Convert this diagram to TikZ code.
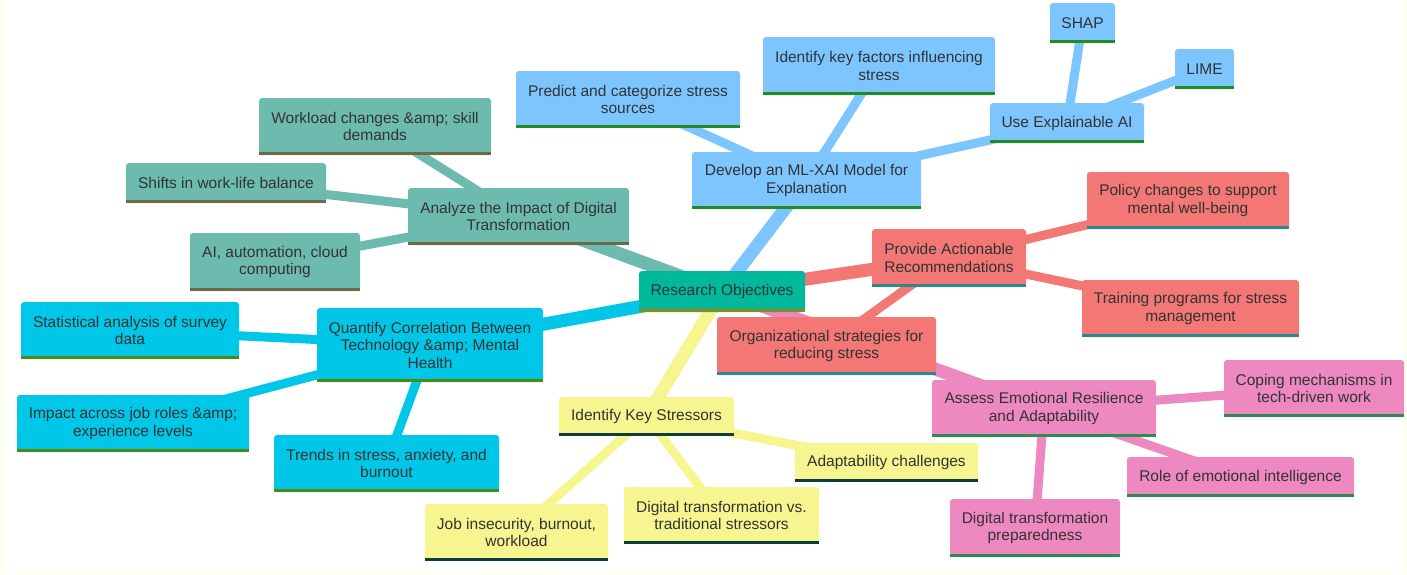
\documentclass[tikz,border=0pt]{standalone}
\usepackage{fontspec}
\setmainfont{Liberation Sans}
\usetikzlibrary{backgrounds}
\pgfdeclarelayer{bg}
\pgfsetlayers{bg,background,main}
\definecolor{txt}{HTML}{333333}
\definecolor{cRoot}{HTML}{00B89C}\definecolor{bRoot}{HTML}{8B8B1A}
\definecolor{cTeal}{HTML}{6DBAAF}\definecolor{bTeal}{HTML}{6B6B4B}
\definecolor{cBlue}{HTML}{7CC5FF}\definecolor{bBlue}{HTML}{228B22}
\definecolor{cRed}{HTML}{F27775}\definecolor{bRed}{HTML}{2A8A8A}
\definecolor{cPink}{HTML}{EE88C0}\definecolor{bPink}{HTML}{2E8B57}
\definecolor{cYel}{HTML}{F7F58F}\definecolor{bYel}{HTML}{0F3D3D}
\definecolor{cCyan}{HTML}{00C7E8}\definecolor{bCyan}{HTML}{4C8A14}
\definecolor{frame}{HTML}{FBFFEF}
\newcommand\mmbar[2]{\draw[#2, line width=3pt] ([yshift=1.5pt]#1.south west) -- ([yshift=1.5pt]#1.south east);}
\tikzset{
  mm/.style={rounded corners=3pt, text=txt, font=\fontsize{15.5}{17.5}\selectfont, align=center, inner sep=0pt},
  sz/.style 2 args={minimum width=#1pt, minimum height=#2pt},
  e1/.style={line width=13pt},
  e2/.style={line width=9pt},
}
\begin{document}
\begin{tikzpicture}[x=1pt,y=-1pt]
\begin{pgfonlayer}{bg}
\fill[frame] (0,0) rectangle (1407,574);
\fill[white] (5,0) rectangle (1404,571);
\end{pgfonlayer}
\useasboundingbox (0,0) rectangle (1407,574);
% root
\node[mm, fill=cRoot, sz={166}{41}] (root) at (722,291.5) {Research Objectives};
% teal group
\node[mm, fill=cTeal, sz={221}{57}] (analyze) at (518.5,216.5) {Analyze the Impact of Digital\\Transformation};
\node[mm, fill=cTeal, sz={232}{57}] (workload) at (375,126.5) {Workload changes \&amp; skill\\demands};
\node[mm, fill=cTeal, sz={200}{40}] (shifts) at (226,183) {Shifts in work-life balance};
\node[mm, fill=cTeal, sz={170}{58}] (aiauto) at (275,262) {AI, automation, cloud\\computing};
% blue group
\node[mm, fill=cBlue, sz={229}{57}] (develop) at (806.5,180.5) {Develop an ML-XAI Model for\\Explanation};
\node[mm, fill=cBlue, sz={224}{57}] (predict) at (628,99.5) {Predict and categorize stress\\sources};
\node[mm, fill=cBlue, sz={232}{58}] (factors) at (879,66) {Identify key factors influencing\\stress};
\node[mm, fill=cBlue, sz={154}{40}] (usexai) at (1067,123) {Use Explainable AI};
\node[mm, fill=cBlue, sz={65}{40}] (shap) at (1082.5,23) {SHAP};
\node[mm, fill=cBlue, sz={59}{40}] (lime) at (1204.5,69) {LIME};
% red group
\node[mm, fill=cRed, sz={154}{58}] (provide) at (949,258) {Provide Actionable\\Recommendations};
\node[mm, fill=cRed, sz={202}{57}] (policy) at (1188,200.5) {Policy changes to support\\mental well-being};
\node[mm, fill=cRed, sz={217}{57}] (training) at (1190.5,308.5) {Training programs for stress\\management};
\node[mm, fill=cRed, sz={219}{58}] (orgstrat) at (826.5,346) {Organizational strategies for\\reducing stress};
% pink group
\node[mm, fill=cPink, sz={224}{57}] (assess) at (1044,408.5) {Assess Emotional Resilience\\and Adaptability};
\node[mm, fill=cPink, sz={180}{57}] (coping) at (1314,388.5) {Coping mechanisms in\\tech-driven work};
\node[mm, fill=cPink, sz={227}{40}] (roleei) at (1240.5,477) {Role of emotional intelligence};
\node[mm, fill=cPink, sz={170}{58}] (dtprep) at (1035,528) {Digital transformation\\preparedness};
% yellow group
\node[mm, fill=cYel, sz={175}{39}] (keystress) at (646.5,416.5) {Identify Key Stressors};
\node[mm, fill=cYel, sz={183}{39}] (adapt) at (886.5,462.5) {Adaptability challenges};
\node[mm, fill=cYel, sz={195}{57}] (dtvs) at (721.5,515.5) {Digital transformation vs.\\traditional stressors};
\node[mm, fill=cYel, sz={183}{57}] (jobins) at (516.5,532.5) {Job insecurity, burnout,\\workload};
% cyan group
\node[mm, fill=cCyan, sz={226}{74}] (quantify) at (430,345) {Quantify Correlation Between\\Technology \&amp; Mental\\Health};
\node[mm, fill=cCyan, sz={218}{57}] (statan) at (130,330.5) {Statistical analysis of survey\\data};
\node[mm, fill=cCyan, sz={232}{57}] (impact) at (133,423.5) {Impact across job roles \&amp;\\experience levels};
\node[mm, fill=cCyan, sz={225}{57}] (trends) at (386.5,463.5) {Trends in stress, anxiety, and\\burnout};
% bars
\mmbar{root}{bRoot}
\foreach \n in {analyze,workload,shifts,aiauto}{\mmbar{\n}{bTeal}}
\foreach \n in {develop,predict,factors,usexai,shap,lime}{\mmbar{\n}{bBlue}}
\foreach \n in {provide,policy,training,orgstrat}{\mmbar{\n}{bRed}}
\foreach \n in {assess,coping,roleei,dtprep}{\mmbar{\n}{bPink}}
\foreach \n in {keystress,adapt,dtvs,jobins}{\mmbar{\n}{bYel}}
\foreach \n in {quantify,statan,impact,trends}{\mmbar{\n}{bCyan}}
% edges
\begin{pgfonlayer}{background}
\draw[e1, cTeal] (root.center) -- (analyze.center);
\draw[e1, cBlue] (root.center) -- (develop.center);
\draw[e1, cRed] (root.center) -- (provide.center);
\draw[e1, cPink] (root.center) -- (assess.center);
\draw[e1, cYel] (root.center) -- (keystress.center);
\draw[e1, cCyan] (root.center) -- (quantify.center);
\draw[e2, cTeal] (analyze.center) -- (workload.center);
\draw[e2, cTeal] (analyze.center) -- (shifts.center);
\draw[e2, cTeal] (analyze.center) -- (aiauto.center);
\draw[e2, cBlue] (develop.center) -- (predict.center);
\draw[e2, cBlue] (develop.center) -- (factors.center);
\draw[e2, cBlue] (develop.center) -- (usexai.center);
\draw[e2, cBlue] (usexai.center) -- (shap.center);
\draw[e2, cBlue] (usexai.center) -- (lime.center);
\draw[e2, cRed] (provide.center) -- (policy.center);
\draw[e2, cRed] (provide.center) -- (training.center);
\draw[e2, cRed] (provide.center) -- (orgstrat.center);
\draw[e2, cPink] (assess.center) -- (coping.center);
\draw[e2, cPink] (assess.center) -- (roleei.center);
\draw[e2, cPink] (assess.center) -- (dtprep.center);
\draw[e2, cYel] (keystress.center) -- (adapt.center);
\draw[e2, cYel] (keystress.center) -- (dtvs.center);
\draw[e2, cYel] (keystress.center) -- (jobins.center);
\draw[e2, cCyan] (quantify.center) -- (statan.center);
\draw[e2, cCyan] (quantify.center) -- (impact.center);
\draw[e2, cCyan] (quantify.center) -- (trends.center);
\end{pgfonlayer}
\end{tikzpicture}
\end{document}
